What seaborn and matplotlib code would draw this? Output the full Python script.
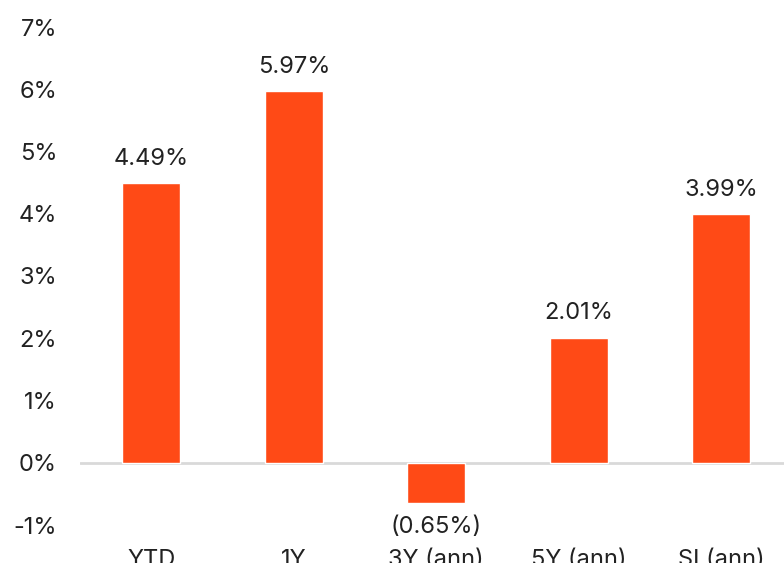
import matplotlib
matplotlib.use("Agg")
import matplotlib.pyplot as plt
import seaborn as sns
import pandas as pd

# data
periods = ["YTD", "1Y", "3Y (ann)", "5Y (ann)", "SI (ann)"]
returns = [4.49, 5.97, -0.65, 2.01, 3.99]
y_ticks = [-1, 0, 1, 2, 3, 4, 5, 6, 7]

bar_color = "#FF4A16"
text_color = "#222222"

sns.set_style("white")
plt.rcParams["font.family"] = ["Inter", "DejaVu Sans"]

df = pd.DataFrame({"period": periods, "ret": returns})

fig = plt.figure(figsize=(7.84, 5.63), dpi=100)
ax = fig.add_axes([80 / 784, 1 - 525 / 563, 712.5 / 784, (525 - 27) / 563])

sns.barplot(data=df, x="period", y="ret", color=bar_color, saturation=1,
            width=0.41, ax=ax)

ax.set_ylim(-1, 7)
ax.set_xlim(-0.5, len(periods) - 0.5)
ax.set_yticks(y_ticks)
ax.set_yticklabels([f"{t}%" for t in y_ticks])
ax.axhline(0, color="#D9D9D9", lw=2, zorder=0)

for s in ax.spines.values():
    s.set_visible(False)
ax.tick_params(axis="both", length=0, labelsize=17, colors=text_color)
ax.tick_params(axis="y", pad=16.5)
ax.tick_params(axis="x", pad=17)
ax.set_xlabel("")
ax.set_ylabel("")

for i, v in enumerate(returns):
    label = f"{v:.2f}%" if v >= 0 else f"({abs(v):.2f}%)"
    off = 9.5 if v >= 0 else -9.5
    ax.annotate(label, (i, v), xytext=(0, off), textcoords="offset points",
                ha="center", va="bottom" if v >= 0 else "top",
                fontsize=17, color=text_color)

fig.savefig("out.png", dpi=100)
